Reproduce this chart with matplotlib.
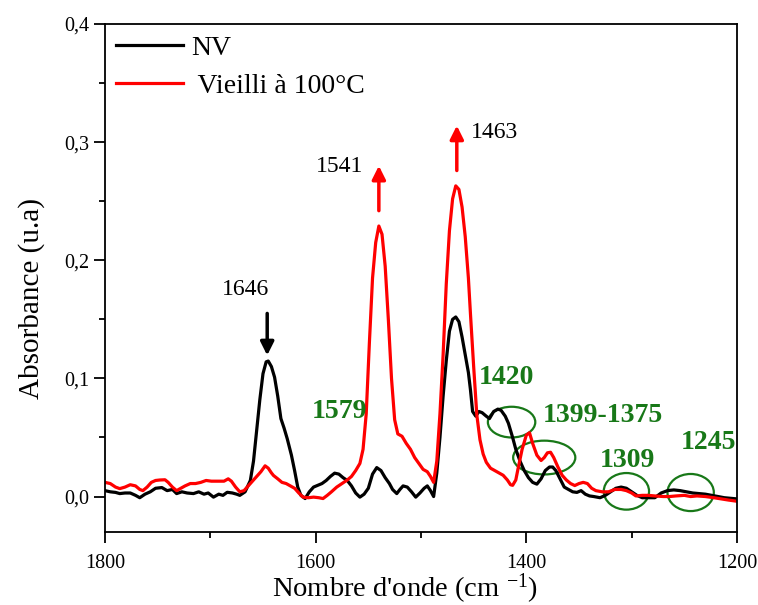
import matplotlib
matplotlib.use("Agg")
import matplotlib.pyplot as plt
from matplotlib.patches import Ellipse

plt.rcParams['font.family'] = ['Liberation Serif', 'DejaVu Serif']
plt.rcParams['mathtext.fontset'] = 'custom'
plt.rcParams['mathtext.rm'] = 'Liberation Serif'
plt.rcParams['mathtext.it'] = 'Liberation Serif:italic'

# FTIR spectra (wavenumber in cm-1, absorbance in a.u.)
wn_nv = [1800, 1795, 1790, 1786, 1781, 1776, 1771, 1767, 1762, 1757, 1752, 1746,
         1741, 1736, 1732, 1727, 1722, 1716, 1711, 1706, 1702, 1697, 1692, 1688,
         1684, 1679, 1675, 1672, 1667, 1662, 1659, 1656, 1653, 1650, 1647, 1645,
         1642, 1639, 1636, 1633, 1630, 1627, 1623, 1620, 1617, 1614, 1610, 1606,
         1602, 1598, 1594, 1590, 1586, 1582, 1578, 1574, 1570, 1566, 1562, 1558,
         1554, 1550, 1546, 1542, 1538, 1534, 1530, 1527, 1523, 1520, 1517, 1513,
         1509, 1505, 1501, 1497, 1494, 1491, 1488, 1485, 1482, 1479, 1476, 1473,
         1470, 1467, 1464, 1461, 1458, 1455, 1453, 1451, 1448, 1445, 1442, 1438,
         1435, 1431, 1427, 1424, 1420, 1417, 1413, 1410, 1406, 1402, 1398, 1394,
         1390, 1386, 1382, 1378, 1375, 1372, 1368, 1364, 1360, 1356, 1352, 1348,
         1344, 1340, 1336, 1330, 1325, 1320, 1315, 1310, 1305, 1300, 1295, 1290,
         1284, 1278, 1272, 1266, 1260, 1254, 1248, 1242, 1236, 1230, 1224, 1218,
         1212, 1206, 1200]
abs_nv = [0.005, 0.004, 0.0035, 0.0025, 0.003, 0.003, 0.001, -0.001, 0.002, 0.004,
          0.007, 0.0076, 0.005, 0.006, 0.0025, 0.004, 0.003, 0.0025, 0.004, 0.002,
          0.003, -0.0005, 0.002, 0.001, 0.0036, 0.003, 0.002, 0.001, 0.004, 0.0136,
          0.03, 0.056, 0.082, 0.104, 0.114, 0.1147, 0.11, 0.101, 0.085, 0.066,
          0.058, 0.049, 0.035, 0.022, 0.008, 0.001, -0.0017, 0.004, 0.008, 0.0095,
          0.011, 0.0136, 0.017, 0.0198, 0.019, 0.016, 0.0136, 0.009, 0.003, -0.0005,
          0.002, 0.007, 0.019, 0.0245, 0.022, 0.016, 0.011, 0.006, 0.0025, 0.006,
          0.009, 0.008, 0.004, -0.0005, 0.003, 0.007, 0.009, 0.005, 0.0, 0.02,
          0.05, 0.085, 0.115, 0.14, 0.15, 0.152, 0.148, 0.135, 0.12, 0.105,
          0.09, 0.072, 0.068, 0.072, 0.071, 0.068, 0.066, 0.072, 0.074, 0.073,
          0.068, 0.062, 0.05, 0.04, 0.03, 0.022, 0.016, 0.012, 0.0105, 0.015,
          0.022, 0.025, 0.025, 0.022, 0.015, 0.008, 0.006, 0.004, 0.0035, 0.005,
          0.002, 0.0005, 0.0, -0.001, 0.001, 0.004, 0.007, 0.008, 0.007, 0.004,
          0.001, -0.001, -0.001, -0.001, 0.003, 0.005, 0.0056, 0.005, 0.004, 0.003,
          0.0025, 0.002, 0.001, 0.0, -0.001, -0.0015, -0.002]

wn_aged = [1800, 1795, 1790, 1786, 1781, 1776, 1771, 1767, 1764, 1760, 1756, 1752,
           1748, 1743, 1740, 1736, 1732, 1728, 1724, 1719, 1714, 1709, 1704, 1699,
           1695, 1691, 1687, 1683, 1680, 1676, 1672, 1668, 1664, 1660, 1656, 1652,
           1648, 1645, 1642, 1640, 1636, 1632, 1628, 1624, 1620, 1616, 1612, 1607,
           1602, 1597, 1593, 1589, 1585, 1580, 1575, 1570, 1566, 1562, 1558, 1555,
           1552, 1549, 1546, 1543, 1540, 1537, 1534, 1531, 1528, 1525, 1522, 1518,
           1514, 1510, 1506, 1502, 1498, 1494, 1491, 1488, 1485, 1482, 1479, 1476,
           1473, 1470, 1467, 1464, 1461, 1458, 1455, 1453, 1450, 1447, 1444, 1441,
           1438, 1434, 1430, 1426, 1422, 1418, 1415, 1413, 1410, 1408, 1404, 1400,
           1397, 1394, 1390, 1386, 1383, 1380, 1377, 1374, 1370, 1366, 1362, 1358,
           1354, 1350, 1346, 1342, 1338, 1334, 1328, 1322, 1316, 1310, 1305, 1300,
           1296, 1290, 1284, 1278, 1270, 1264, 1258, 1250, 1244, 1238, 1230, 1222,
           1215, 1208, 1200]
abs_aged = [0.012, 0.011, 0.008, 0.0067, 0.008, 0.010, 0.009, 0.006, 0.005, 0.008,
            0.012, 0.0136, 0.014, 0.0142, 0.012, 0.008, 0.005, 0.007, 0.009, 0.011,
            0.011, 0.012, 0.0136, 0.013, 0.013, 0.013, 0.013, 0.015, 0.013, 0.008,
            0.004, 0.005, 0.009, 0.013, 0.017, 0.021, 0.026, 0.024, 0.02, 0.0178,
            0.015, 0.012, 0.011, 0.009, 0.007, 0.003, -0.0005, -0.001, -0.0005, -0.001,
            -0.0017, 0.001, 0.004, 0.008, 0.011, 0.014, 0.017, 0.022, 0.028, 0.04,
            0.07, 0.13, 0.185, 0.215, 0.229, 0.222, 0.195, 0.15, 0.1, 0.065,
            0.053, 0.051, 0.045, 0.04, 0.033, 0.028, 0.023, 0.021, 0.017, 0.012,
            0.03, 0.07, 0.12, 0.18, 0.225, 0.252, 0.263, 0.26, 0.245, 0.22,
            0.185, 0.154, 0.11, 0.069, 0.048, 0.036, 0.029, 0.024, 0.022, 0.02,
            0.018, 0.014, 0.01, 0.0095, 0.014, 0.023, 0.04, 0.052, 0.054, 0.045,
            0.035, 0.0305, 0.033, 0.037, 0.0375, 0.033, 0.025, 0.018, 0.014, 0.011,
            0.0093, 0.011, 0.012, 0.011, 0.007, 0.005, 0.004, 0.004, 0.006, 0.006,
            0.005, 0.003, 0.0005, 0.001, 0.001, 0.0005, 0.0, 0.0, 0.0005, 0.001,
            0.0, 0.0005, 0.0, -0.001, -0.002, -0.003, -0.004]

series_labels = ["NV", " Vieilli à 100°C"]
xticks = [1800, 1600, 1400, 1200]
yticks = [0.0, 0.1, 0.2, 0.3, 0.4]
ytick_labels = ["0,0", "0,1", "0,2", "0,3", "0,4"]

# Band annotations with arrows: (label, x, arrow tail y, arrow head y, label x, label y, colour)
arrow_bands = [
    ("1646", 1646, 0.155, 0.1195, 1667, 0.175, "black"),
    ("1541", 1540, 0.242, 0.280, 1577, 0.279, "red"),
    ("1463", 1466, 0.276, 0.314, 1430, 0.308, "red"),
]
# Bands marked in green: (label, label x, label y)
green_labels = [
    ("1579", 1577, 0.072),
    ("1420", 1419, 0.101),
    ("1399-1375", 1327, 0.069),
    ("1309", 1304, 0.0305),
    ("1245", 1227, 0.046),
]
# Circled regions: (centre x, centre y, width in cm-1, height in a.u.)
circles = [
    (1414, 0.063, 45, 0.026),
    (1383, 0.033, 59, 0.0286),
    (1305, 0.0044, 43, 0.031),
    (1244, 0.0034, 44, 0.0314),
]
GREEN = "#187818"

fig = plt.figure(figsize=(7.58, 6.05), dpi=100)
ax = fig.add_axes([0.1385, 0.1207, 0.8338, 0.8396])

ax.plot(wn_nv, abs_nv, color="black", lw=2.3, label=series_labels[0])
ax.plot(wn_aged, abs_aged, color="red", lw=2.3, label=series_labels[1])

ax.set_xlim(1800, 1200)
ax.set_ylim(-0.03, 0.4)
ax.set_xticks(xticks)
ax.set_xticks([1700, 1500, 1300], minor=True)
ax.set_yticks(yticks)
ax.set_yticklabels(ytick_labels)
ax.set_yticks([0.05, 0.15, 0.25, 0.35], minor=True)
ax.tick_params(axis="both", which="major", direction="out", length=8, width=1.3,
               labelsize=14.5, top=False, right=False)
ax.tick_params(axis="x", which="major", pad=8)
ax.tick_params(axis="both", which="minor", direction="out", length=4, width=1.3,
               top=False, right=False)
for sp in ax.spines.values():
    sp.set_linewidth(1.3)

ax.set_xlabel(r"Nombre d'onde (cm $^{-1}$)", fontsize=20.5)
ax.xaxis.set_label_coords(0.475, -0.078)
ax.set_ylabel("Absorbance (u.a)", fontsize=21)
ax.yaxis.set_label_coords(-0.095, 0.46)

for label, x, y0, y1, lx, ly, col in arrow_bands:
    ax.annotate("", xy=(x, y1), xytext=(x, y0),
                arrowprops=dict(arrowstyle="-|>", color=col, lw=2.5,
                                mutation_scale=20, shrinkA=0, shrinkB=0))
    ax.text(lx, ly, label, fontsize=17, color="black", ha="center", va="center")

for label, x, y in green_labels:
    ax.text(x, y, label, fontsize=20, fontweight="bold", color=GREEN,
            ha="center", va="center")

for cx, cy, w, h in circles:
    ax.add_patch(Ellipse((cx, cy), w, h, fill=False, edgecolor=GREEN, lw=1.6))

ax.legend(loc="upper left", frameon=False, fontsize=20, handlelength=2.4,
          handletextpad=0.3, labelspacing=0.45, borderaxespad=0.2,
          borderpad=0.2)

fig.savefig("out.png", dpi=100)
